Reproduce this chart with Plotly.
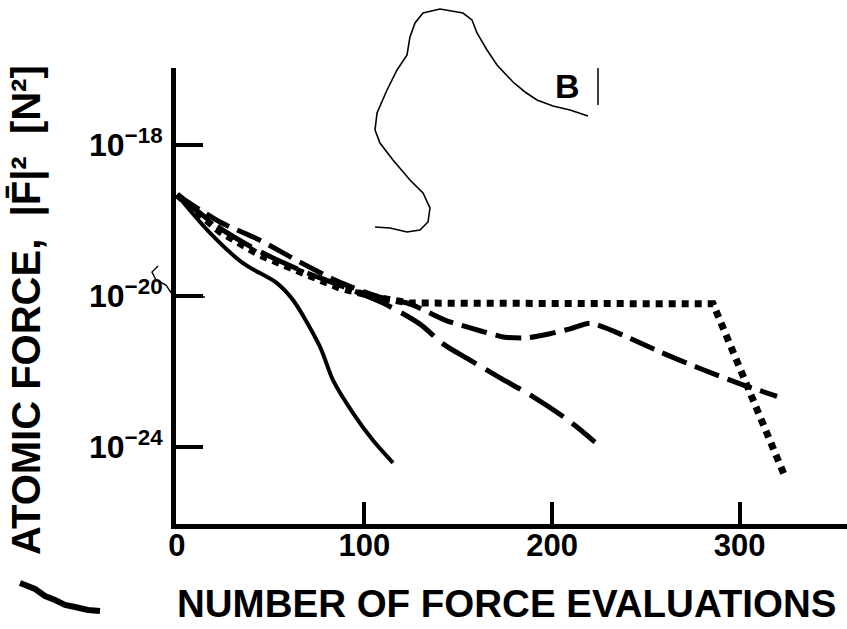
import plotly.graph_objects as go

# Number of force evaluations (x) and squared atomic force |F|^2 in N^2 (y)
steep_x = [0, 17.6, 35.2, 53.3, 61.9, 76.3, 83.2, 93.9, 104.5, 115.2]
steep_y = [4.8e-18, 4.7e-19, 7.4e-20, 2.2e-20, 7.8e-21, 4.5e-22, 5.9e-23, 7.9e-24, 1.5e-24, 3.8e-25]

longdash_x = [0, 22.9, 44.3, 65.6, 86.9, 108.3, 124.3, 142.9, 161.6, 174.9, 186.7,
              198.9, 209.6, 220.3, 238.9, 257.6, 278.9, 300.3, 320.0]
longdash_y = [4.8e-18, 9.1e-19, 3.0e-19, 7.9e-20, 2.3e-20, 9.3e-21, 6.2e-21, 2.3e-21,
              1.2e-21, 8.1e-22, 7.8e-22, 1.0e-21, 1.35e-21, 1.9e-21, 8.7e-22, 3.3e-22,
              1.2e-22, 4.7e-23, 2.2e-23]

dash_x = [0, 22.9, 44.3, 65.6, 86.9, 109.9, 129.6, 141.9, 156.3, 172.3, 188.3, 208.5, 222.9]
dash_y = [4.8e-18, 6.3e-19, 1.5e-19, 4.9e-20, 1.9e-20, 6.5e-21, 1.8e-21, 5.4e-22,
          2.0e-22, 6.8e-23, 2.4e-23, 5.2e-24, 1.35e-24]

dot_x = [0, 22.9, 44.3, 65.6, 86.9, 108.3, 124.3, 285.9, 324.3]
dot_y = [4.8e-18, 5.0e-19, 1.2e-19, 4.4e-20, 1.6e-20, 8.9e-21, 6.5e-21, 6.2e-21, 1.6e-25]

x_ticks = [0, 100, 200, 300]
x_tick_text = ["<b>0</b>", "<b>100</b>", "<b>200</b>", "<b>300</b>"]
y_ticks = [1e-16, 1e-20, 1e-24]
y_tick_text = ["<b>10</b><sup><b>\u221218</b></sup>",
               "<b>10</b><sup><b>\u221220</b></sup>",
               "<b>10</b><sup><b>\u221224</b></sup>"]

FONT = "Liberation Sans"
W, H = 847, 629
L, R, T, B = 176, 0, 68, 105
PW, PH = W - L - R, H - T - B


def pxx(x):
    return (x - L) / PW


def pxy(y):
    return (H - B - y) / PH


fig = go.Figure()
fig.add_trace(go.Scatter(x=steep_x, y=steep_y, mode="lines",
                         line=dict(color="black", width=4, shape="spline", smoothing=0.8)))
fig.add_trace(go.Scatter(x=longdash_x, y=longdash_y, mode="lines",
                         line=dict(color="black", width=5, dash="26px,9px",
                                   shape="spline", smoothing=0.6)))
fig.add_trace(go.Scatter(x=dash_x, y=dash_y, mode="lines",
                         line=dict(color="black", width=5, dash="40px,11px",
                                   shape="spline", smoothing=0.8)))
fig.add_trace(go.Scatter(x=dot_x, y=dot_y, mode="lines",
                         line=dict(color="black", width=7, dash="7px,6px")))

fig.update_xaxes(range=[-0.5, 357.3], showgrid=False, zeroline=False,
                 showline=True, linewidth=5, linecolor="black",
                 ticks="inside", ticklen=22, tickwidth=4, tickcolor="black",
                 tickvals=x_ticks, ticktext=x_tick_text, ticklabelstandoff=-10,
                 tickfont=dict(family=FONT, size=31, color="black", weight="bold"))
fig.update_yaxes(type="log", range=[-26.04, -13.96], showgrid=False, zeroline=False,
                 showline=True, linewidth=5, linecolor="black",
                 ticks="inside", ticklen=27, tickwidth=4, tickcolor="black",
                 tickvals=y_ticks, ticktext=y_tick_text, ticklabelstandoff=2,
                 tickfont=dict(family=FONT, size=32, color="black", weight="bold"))

# hand-drawn loop near the top with the panel letter
loop = [(588, 116), (570, 110), (553, 106), (537, 100), (525, 92), (513, 82), (497, 65),
        (487, 50), (477, 33), (472, 20), (463, 13), (440, 9), (423, 13), (415, 23),
        (410, 37), (407, 55), (397, 70), (387, 90), (377, 113), (375, 130), (380, 143),
        (393, 160), (410, 180), (423, 193), (430, 208), (428, 222), (420, 230),
        (407, 232), (390, 228), (375, 227)]
smudge = [(20, 583), (35, 589), (45, 596), (55, 600), (65, 605), (75, 607), (88, 610), (100, 611)]
hook = [(158, 266), (152, 272), (156, 280), (166, 285), (172, 294), (180, 297), (205, 297)]


def path(points):
    return "M " + " L ".join(f"{pxx(a):.4f},{pxy(b):.4f}" for a, b in points)


shapes = [
    dict(type="path", xref="paper", yref="paper", path=path(loop),
         line=dict(color="black", width=1.6)),
    dict(type="path", xref="paper", yref="paper", path=path(smudge),
         line=dict(color="black", width=6)),
    dict(type="path", xref="paper", yref="paper", path=path(hook),
         line=dict(color="black", width=1.4)),
    dict(type="line", xref="paper", yref="paper", x0=pxx(598), x1=pxx(598),
         y0=pxy(68), y1=pxy(105), line=dict(color="black", width=1.5)),
]

annotations = [
    dict(text="<b>ATOMIC FORCE,  |F\u0304|\u00b2  [N\u00b2]</b>", xref="paper", yref="paper",
         x=pxx(26), y=pxy(310), xanchor="center", yanchor="middle", textangle=-90,
         showarrow=False, font=dict(family=FONT, size=40, color="black", weight="bold")),
    dict(text="<b>NUMBER OF FORCE EVALUATIONS</b>", xref="paper", yref="paper",
         x=pxx(506), y=pxy(603), xanchor="center", yanchor="middle",
         showarrow=False, font=dict(family=FONT, size=38.5, color="black", weight="bold")),
    dict(text="<b>B</b>", xref="paper", yref="paper", x=pxx(567), y=pxy(86),
         xanchor="center", yanchor="middle", showarrow=False,
         font=dict(family=FONT, size=34, color="black", weight="bold")),
]

fig.update_layout(width=W, height=H, margin=dict(l=L, r=R, t=T, b=B),
                  paper_bgcolor="white", plot_bgcolor="white", showlegend=False,
                  shapes=shapes, annotations=annotations)

fig.write_html("out.html")
